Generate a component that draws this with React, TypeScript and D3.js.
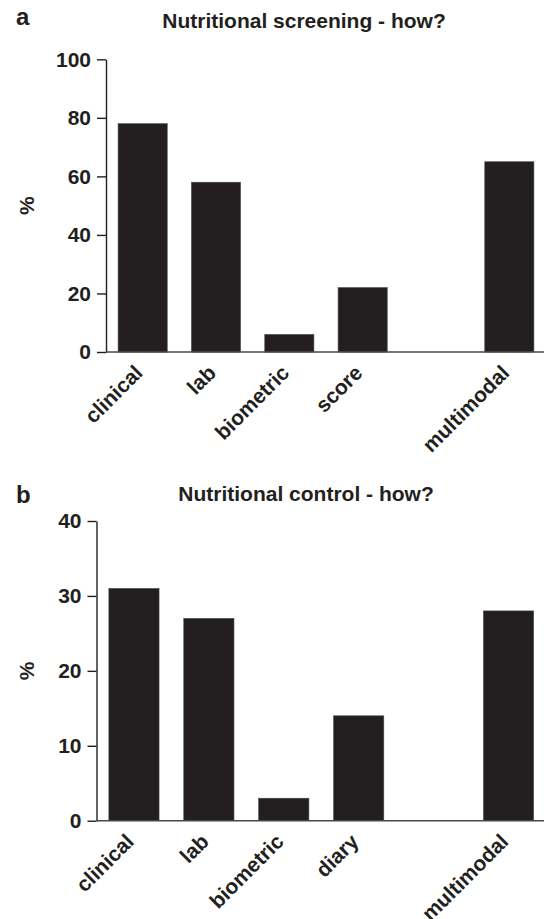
import React, { useRef, useEffect } from 'react';
import * as d3 from 'd3';

// panel a
const screeningCategories = ['clinical', 'lab', 'biometric', 'score', 'multimodal'];
const screeningValues = [78, 58, 6, 22, 65];
const screeningTicks = [0, 20, 40, 60, 80, 100];

// panel b
const controlCategories = ['clinical', 'lab', 'biometric', 'diary', 'multimodal'];
const controlValues = [31, 27, 3, 14, 28];
const controlTicks = [0, 10, 20, 30, 40];

// slot layout: empty slot before "multimodal"
const slots = ['s0', 's1', 's2', 's3', 'gap', 's5'];
const slotOf = [0, 1, 2, 3, 5];

const INK = '#231f20';
const FONT = '"Liberation Sans", Arial, Helvetica, sans-serif';

const panels = [
  {
    letter: 'a', title: 'Nutritional screening - how?',
    categories: screeningCategories, values: screeningValues, ticks: screeningTicks,
    x0: 106, yTop: 59.3, yBottom: 352, titleX: 304, titleY: 28, letterY: 25,
  },
  {
    letter: 'b', title: 'Nutritional control - how?',
    categories: controlCategories, values: controlValues, ticks: controlTicks,
    x0: 96.5, yTop: 521, yBottom: 820.7, titleX: 306, titleY: 501, letterY: 503,
  },
];

const App = () => {
  const svgRef = useRef(null);
  const width = 544;
  const height = 919;

  useEffect(() => {
    const svg = d3.select(svgRef.current);
    svg.selectAll('*').remove();

    panels.forEach(p => {
      const g = svg.append('g');

      const x = d3.scaleBand()
        .domain(slots)
        .range([p.x0, 546])
        .paddingInner(0.33)
        .paddingOuter(0.165);

      const y = d3.scaleLinear()
        .domain([0, d3.max(p.ticks)])
        .range([p.yBottom, p.yTop]);

      // letter + title
      g.append('text')
        .attr('x', 16).attr('y', p.letterY)
        .style('font-family', FONT).style('font-weight', 'bold')
        .style('font-size', '24px').style('fill', INK)
        .text(p.letter);

      g.append('text')
        .attr('x', p.titleX).attr('y', p.titleY)
        .attr('text-anchor', 'middle')
        .style('font-family', FONT).style('font-weight', 'bold')
        .style('font-size', '21px').style('fill', INK)
        .text(p.title);

      // bars
      g.selectAll('.bar')
        .data(p.values)
        .enter()
        .append('rect')
        .attr('class', 'bar')
        .attr('x', (d, i) => x(slots[slotOf[i]]))
        .attr('width', x.bandwidth())
        .attr('y', d => y(d))
        .attr('height', d => y(0) - y(d))
        .style('fill', INK)
        .style('stroke', '#4a4748')
        .style('stroke-width', 0.6);

      // y axis
      const yAxis = d3.axisLeft(y)
        .tickValues(p.ticks)
        .tickSize(9)
        .tickSizeOuter(0)
        .tickPadding(6);

      const ya = g.append('g')
        .attr('transform', `translate(${p.x0},0)`)
        .call(yAxis);
      ya.select('.domain').style('stroke', INK).style('stroke-width', 1.4);
      ya.selectAll('.tick line').style('stroke', INK).style('stroke-width', 1.4);
      ya.selectAll('.tick text')
        .style('font-family', FONT).style('font-weight', 'bold')
        .style('font-size', '21px').style('fill', INK);

      // baseline
      g.append('line')
        .attr('x1', p.x0).attr('x2', width)
        .attr('y1', y(0)).attr('y2', y(0))
        .style('stroke', '#4a4748').style('stroke-width', 1.6);

      // y label
      g.append('text')
        .attr('transform', `translate(27,${(p.yTop + p.yBottom) / 2}) rotate(-90)`)
        .attr('text-anchor', 'middle')
        .attr('dy', '0.35em')
        .style('font-family', FONT).style('font-weight', 'bold')
        .style('font-size', '21px').style('fill', INK)
        .text('%');

      // category labels, rotated
      g.selectAll('.cat')
        .data(p.categories)
        .enter()
        .append('text')
        .attr('class', 'cat')
        .attr('transform', (d, i) => {
          const cx = x(slots[slotOf[i]]) + x.bandwidth() / 2;
          return `translate(${cx - 4},${y(0) + 17}) rotate(-45)`;
        })
        .attr('text-anchor', 'end')
        .attr('dy', '0.35em')
        .style('font-family', FONT).style('font-weight', 'bold')
        .style('font-size', '21px').style('fill', INK)
        .text(d => d);
    });
  }, []);

  return (
    <svg
      ref={svgRef}
      width={width}
      height={height}
      style={{ position: 'absolute', left: 0, top: 0, background: '#fff' }}
    />
  );
};

export default App;
